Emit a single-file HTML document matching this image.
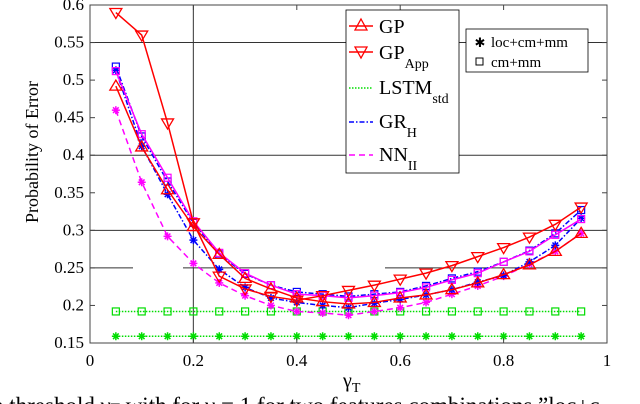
<!DOCTYPE html>
<html><head><meta charset="utf-8"><style>
body{margin:0;background:#fff;}
svg{display:block;font-family:"Liberation Serif",serif;}
</style></head><body>
<svg id="chart" width="640" height="404" viewBox="0 0 640 404">
<g id="grid"></g>
<g id="series"></g>
<g id="axes"></g>
<text x="38" y="152" transform="rotate(-90 38 152)" text-anchor="middle" font-size="18">Probability of Error</text>
<text x="343" y="387" font-size="20">γ<tspan font-size="14" dy="5">T</tspan></text>
<text x="-8" y="413" font-size="23">n threshold γ<tspan font-size="15">T</tspan> with for ν = 1 for two features combinations ”loc+c</text>
<g>
<rect x="346" y="10" width="113" height="163" fill="#fff" stroke="#000" stroke-width="0.8"/>
<g><line x1="349" y1="26" x2="373" y2="26" stroke="#f00" stroke-width="1.5"/><path d="M361 19 L367 30 L355 30 Z" fill="none" stroke="#f00" stroke-width="1.3"/><text x="379" y="33" font-size="20">GP</text></g>
<g><line x1="349" y1="52" x2="373" y2="52" stroke="#f00" stroke-width="1.5"/><path d="M355 47 L367 47 L361 58 Z" fill="none" stroke="#f00" stroke-width="1.3"/><text x="379" y="59" font-size="20">GP<tspan font-size="14" dy="9">App</tspan></text></g>
<g><line x1="349" y1="88" x2="373" y2="88" stroke="#0d0" stroke-width="1.5" stroke-dasharray="1.5 1.5"/><text x="379" y="94" font-size="20">LSTM<tspan font-size="14" dy="9">std</tspan></text></g>
<g><line x1="349" y1="122" x2="373" y2="122" stroke="#00f" stroke-width="1.5" stroke-dasharray="5 2 1.5 2"/><text x="379" y="128" font-size="20">GR<tspan font-size="14" dy="9">H</tspan></text></g>
<g><line x1="349" y1="155" x2="373" y2="155" stroke="#f0f" stroke-width="1.5" stroke-dasharray="6 4"/><text x="379" y="161" font-size="20">NN<tspan font-size="14" dy="9">II</tspan></text></g>
</g>
<g>
<rect x="466" y="29" width="122" height="43" fill="#fff" stroke="#000" stroke-width="0.8"/>
<g><text x="480" y="47" font-size="13" text-anchor="middle">✱</text><text x="491" y="47" font-size="15">loc+cm+mm</text></g>
<g><rect x="476" y="58" width="7" height="7" fill="none" stroke="#000"/><text x="491" y="67" font-size="15">cm+mm</text></g>
</g>
</svg>
<script>
const xs=[0.05,0.1,0.15,0.2,0.25,0.3,0.35,0.4,0.45,0.5,0.55,0.6,0.65,0.7,0.75,0.8,0.85,0.9,0.95];
const gp=[0.492,0.411,0.354,0.305,0.268,0.236,0.222,0.21,0.205,0.202,0.204,0.21,0.214,0.221,0.23,0.241,0.254,0.272,0.296];
const gpApp=[0.59,0.56,0.443,0.31,0.239,0.222,0.212,0.207,0.213,0.22,0.227,0.235,0.243,0.253,0.265,0.277,0.291,0.308,0.331];
const grSq=[0.518,0.425,0.365,0.31,0.268,0.242,0.227,0.218,0.215,0.212,0.215,0.218,0.226,0.236,0.245,0.258,0.273,0.296,0.327];
const grSt=[0.513,0.412,0.348,0.287,0.248,0.224,0.21,0.204,0.2,0.197,0.203,0.208,0.214,0.221,0.231,0.24,0.258,0.28,0.316];
const nnSq=[0.512,0.428,0.37,0.312,0.27,0.243,0.227,0.215,0.213,0.21,0.213,0.217,0.224,0.234,0.243,0.258,0.272,0.294,0.315];
const nnSt=[0.46,0.364,0.292,0.256,0.23,0.213,0.2,0.192,0.19,0.187,0.192,0.197,0.204,0.215,0.226,0.239,0.255,0.272,0.296];
const lstmSq=[0.192,0.192,0.192,0.192,0.192,0.192,0.192,0.192,0.192,0.192,0.192,0.192,0.192,0.192,0.192,0.192,0.192,0.192,0.192];
const lstmSt=[0.159,0.159,0.159,0.159,0.159,0.159,0.159,0.159,0.159,0.159,0.159,0.159,0.159,0.159,0.159,0.159,0.159,0.159,0.159];
const xTicks=[0,0.2,0.4,0.6,0.8,1];
const xTickLabels=["0","0.2","0.4","0.6","0.8","1"];
const yTicks=[0.15,0.2,0.25,0.3,0.35,0.4,0.45,0.5,0.55,0.6];
const yTickLabels=["0.15","0.2","0.25","0.3","0.35","0.4","0.45","0.5","0.55","0.6"];
const L=90,R=607,T=5,B=343;
const X=v=>L+v*(R-L);
const Y=v=>B-(v-0.15)/0.45*(B-T);
const NS="http://www.w3.org/2000/svg";
function mk(tag,attrs,parent){const e=document.createElementNS(NS,tag);for(const k in attrs)e.setAttribute(k,attrs[k]);parent.appendChild(e);return e;}
const grid=document.getElementById('grid'),ser=document.getElementById('series'),axes=document.getElementById('axes');
let g;
g=mk('line',{x1:X(0.2),x2:X(0.2),y1:T,y2:B,stroke:'#555','stroke-width':1.2},grid);

[[0.55,[[L,R]]],[0.4,[[L,R]]],[0.3,[[L,R]]],[0.25,[[L,133],[183,302],[385,R]]]].forEach(([v,segs])=>{
 segs.forEach(s=>{const l=mk('line',{x1:s[0],x2:s[1],y1:Y(v),y2:Y(v),stroke:'#333','stroke-width':1},grid);
 });
});
const box=mk('rect',{x:L,y:T,width:R-L,height:B-T,fill:'none',stroke:'#444','stroke-width':1},axes);

xTicks.forEach((v,i)=>{
 mk('line',{x1:X(v),x2:X(v),y1:B,y2:B-5,stroke:'#444'},axes);mk('line',{x1:X(v),x2:X(v),y1:T,y2:T+5,stroke:'#444'},axes);
 const t=mk('text',{x:X(v),y:366,'text-anchor':'middle','font-size':17},axes);t.textContent=xTickLabels[i];
 
});
yTicks.forEach((v,i)=>{
 mk('line',{x1:L,x2:L+5,y1:Y(v),y2:Y(v),stroke:'#444'},axes);mk('line',{x1:R,x2:R-5,y1:Y(v),y2:Y(v),stroke:'#444'},axes);
 const t=mk('text',{x:84,y:Y(v)+5,'text-anchor':'end','font-size':17},axes);t.textContent=yTickLabels[i];
 
});
function marker(type,x,y,color,p){
 if(type==='sq')mk('rect',{x:x-3.5,y:y-3.5,width:7,height:7,fill:'none',stroke:color,'stroke-width':1.2},p);
 else if(type==='st'){for(let a=0;a<4;a++){const r=a*Math.PI/4;mk('line',{x1:x-4*Math.cos(r),y1:y-4*Math.sin(r),x2:x+4*Math.cos(r),y2:y+4*Math.sin(r),stroke:color,'stroke-width':1.5},p);}}
 else if(type==='up')mk('path',{d:`M${x} ${y-6} L${x+6} ${y+4} L${x-6} ${y+4} Z`,fill:'none',stroke:color,'stroke-width':1.3},p);
 else if(type==='dn')mk('path',{d:`M${x-6} ${y-4} L${x+6} ${y-4} L${x} ${y+6} Z`,fill:'none',stroke:color,'stroke-width':1.3},p);
}
function series(name,vals,color,dash,mtype){
 const gg=mk('g',{},ser);
 
 
 const pts=vals.map((v,i)=>X(xs[i])+','+Y(v)).join(' ');
 mk('polyline',{points:pts,fill:'none',stroke:color,'stroke-width':1.5,'stroke-dasharray':dash},gg);
 vals.forEach((v,i)=>marker(mtype,X(xs[i]),Y(v),color,gg));
}
series('lstm-cm-mm-line',lstmSq,'#0d0','1.5 1.5','sq');
series('lstm-loc-cm-mm-line',lstmSt,'#0d0','1.5 1.5','st');
series('nn-ii-loc-cm-mm-line',nnSt,'#f0f','6 4','st');
series('gr-h-loc-cm-mm-line',grSt,'#00f','5 2 1.5 2','st');
series('gr-h-cm-mm-line',grSq,'#00f','5 2 1.5 2','sq');
series('nn-ii-cm-mm-line',nnSq,'#f0f','none','sq');
series('gp-line',gp,'#f00','none','up');
series('gp-app-line',gpApp,'#f00','none','dn');
</script>
</body></html>
